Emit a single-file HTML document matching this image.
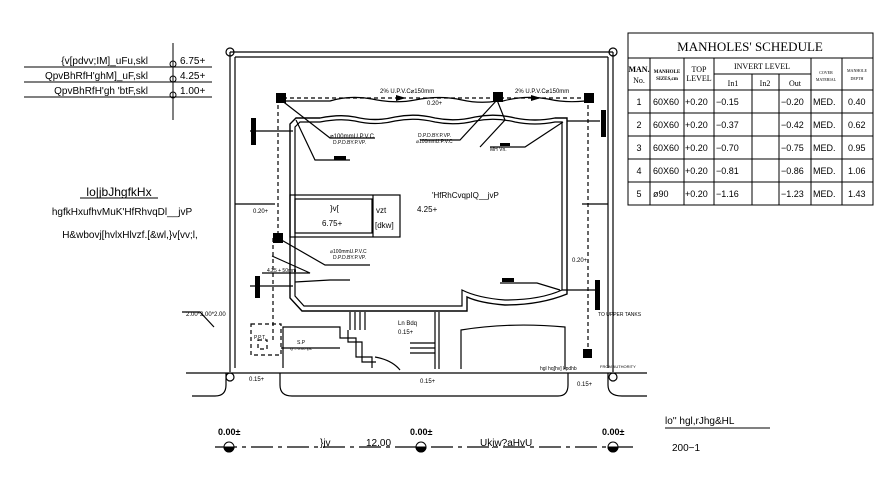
<!DOCTYPE html>
<html><head><meta charset="utf-8"><style>
html,body{margin:0;padding:0;background:#fff;}
svg{display:block;font-family:"Liberation Sans",sans-serif;}
.t{font-family:"Liberation Serif",serif;}
</style></head><body>
<svg width="891" height="493" viewBox="0 0 891 493" xmlns="http://www.w3.org/2000/svg">
<rect width="891" height="493" fill="#fff"/>
<g stroke="#000" fill="none" stroke-width="1.2">
<!-- boundary -->
<line x1="230" y1="52" x2="613" y2="52"/>
<line x1="235" y1="57" x2="608" y2="57"/>
<line x1="230" y1="52" x2="230" y2="372"/>
<line x1="235" y1="57" x2="235" y2="368"/>
<line x1="613" y1="52" x2="613" y2="372"/>
<line x1="608" y1="57" x2="608" y2="368"/>
<circle cx="230" cy="52" r="4"/><circle cx="613" cy="52" r="4"/>
<circle cx="230" cy="377" r="4"/><circle cx="613" cy="377" r="4"/>
<!-- road -->
<line x1="186" y1="373" x2="647" y2="373"/>
<path d="M192 396 H215 Q226 396 226 385 V373"/>
<path d="M280 373 V385 Q280 396 292 396 H558 Q568 396 568 385 V373"/>
<path d="M647 396 H622 Q608 396 608 385 V373"/>
<!-- wavy line under pipe -->
<path d="M283 101 H330 Q350 95 372 99 Q395 104 415 100 Q440 95 462 100 Q480 104 497 101 M503 101 Q525 95 548 99 Q565 103 585 101"/>
<!-- building -->
<path d="M290 298 V124 L296 118 H320 Q340 114 355 117 Q375 122 395 117 Q415 113 435 118 Q455 122 475 117 Q495 113 515 118 Q535 122 555 118 H567 V294 Q540 305 505 305 Q480 303 467 297 V311 H302 Z" stroke-width="1.4"/>
<path d="M295 296 V127 L300 122 H320 Q340 118 355 121 Q375 126 395 121 Q415 117 435 122 Q455 126 475 121 Q495 117 515 122 Q535 126 555 122 H562 V290 Q540 300 505 300 Q478 298 462 290 V306 H304 Z"/>
<!-- pool -->
<rect x="290" y="195" width="110" height="42"/>
<rect x="295" y="199" width="77" height="34"/>
<line x1="373" y1="195" x2="373" y2="237"/>
<!-- lower structures -->
<path d="M283 368 V327 H340 V338 H356 V357 H372 V368"/>
<path d="M348 330 V342 H362 V362 H376 V362" />
<path d="M375 357 Q392 360 400 370"/>
<line x1="435" y1="312" x2="435" y2="369"/>
<line x1="439" y1="312" x2="439" y2="369"/>
<path d="M461 369 V330 Q510 322 565 327 V369"/>
<path d="M350 312 V330 M355 312 V330 M360 312 V330 M365 312 V330"/>
<path d="M410 343 H435 M410 348 H435 M410 353 H435"/>
<line x1="235" y1="204" x2="275" y2="204"/>
<line x1="582" y1="204" x2="608" y2="204"/>
<!-- dashed pipes -->
<g stroke-dasharray="4,3">
<line x1="283" y1="98" x2="588" y2="98"/>
<line x1="278" y1="98" x2="278" y2="238"/>
<line x1="588" y1="98" x2="588" y2="355"/>
<line x1="273" y1="238" x2="273" y2="340"/>
<rect x="251" y="324" width="30" height="31"/>
<rect x="258" y="340" width="9" height="9"/>
</g>
<!-- leader lines -->
<path d="M281 100 L330 138 H375"/>
<path d="M497 100 L460 140 H420"/>
<path d="M497 100 L505 120 L480 147"/>
<path d="M563 122 L525 147 H490"/>
<path d="M296 120 L315 160 H350"/>
<path d="M278 238 L325 265 H370"/>
<path d="M560 290 L537 283 H500"/>
<path d="M295 282 L330 280 H350"/>
<path d="M250 286 H293"/>
<path d="M250 131 H293"/>
<path d="M567 121 L600 121"/>
<path d="M562 290 L597 290"/>
<path d="M182 312 H200 L214 327"/>
<path d="M281 348 H340"/>
<path d="M272 256 L310 273 H262"/>
</g>
<!-- manholes -->
<g fill="#000">
<path d="M396 95 L406 98 L396 101 Z"/><path d="M531 95 L541 98 L531 101 Z"/>
<rect x="276" y="93" width="10" height="10"/><rect x="493" y="92" width="10" height="10"/>
<rect x="584" y="93" width="10" height="10"/><rect x="273" y="233" width="10" height="10"/>
<rect x="583" y="349" width="9" height="9"/>
<rect x="251" y="118" width="5" height="27"/><rect x="601" y="110" width="5" height="27"/>
<rect x="255" y="276" width="5" height="22"/><rect x="595" y="280" width="5" height="30"/>
<rect x="334" y="156" width="12" height="4"/><rect x="500" y="143" width="10" height="3"/>
<rect x="502" y="278" width="12" height="4"/>
</g>
<g fill="#000" font-size="6">
<text x="380" y="93">2%  U.P.V.C⌀150mm</text>
<text x="515" y="93">2%  U.P.V.C⌀150mm</text>
<text x="427" y="105">0.20+</text>
<text x="330" y="138">⌀100mmU.P.V.C</text><text x="333" y="144" font-size="5">D.P.D.BY.P.VP.</text>
<text x="418" y="137" font-size="5">D.P.D.BY.P.VP.</text><text x="416" y="143" font-size="5">⌀100mmU.P.V.C</text>
<text x="490" y="151" font-size="5">MH Vn.</text>
<text x="330" y="253" font-size="5">⌀100mmU.P.V.C</text><text x="333" y="259" font-size="5">D.P.D.BY.P.VP.</text>
<text x="267" y="272" font-size="5">4.25 + 50mm</text>
<text x="253" y="213">0.20+</text><text x="572" y="262">0.20+</text>
<text x="249" y="381">0.15+</text><text x="420" y="383">0.15+</text><text x="577" y="386">0.15+</text>
<text x="398" y="325">Ln Bdq</text><text x="398" y="334">0.15+</text>
<text x="186" y="316">2.00*2.00*2.00</text>
<text x="254" y="339" font-size="5">P.P.T.</text>
<text x="297" y="344" font-size="5">S.P</text><text x="290" y="350" font-size="4">Q = 0.00 lps</text>
<text x="540" y="370" font-size="5">hgl hq[hv] kpdhb</text>
<text x="598" y="316" font-size="5">TO UPPER TANKS</text>
<text x="600" y="368" font-size="4">FROM AUTHORITY</text>
</g>
<g fill="#000" font-size="8">
<text x="432" y="198">'HfRhCvqpIQ__jvP</text>
<text x="417" y="212">4.25+</text>
<text x="330" y="211">}v[</text><text x="322" y="226">6.75+</text>
<text x="376" y="213">vzt</text><text x="375" y="228">[dkw]</text>
</g>
<!-- left legend -->
<g stroke="#000" stroke-width="1">
<line x1="24" y1="67" x2="212" y2="67"/><line x1="24" y1="82" x2="212" y2="82"/><line x1="24" y1="97" x2="212" y2="97"/>
<line x1="173" y1="43" x2="173" y2="120"/>
<circle cx="173" cy="64" r="3" fill="none"/><circle cx="173" cy="79" r="3" fill="none"/><circle cx="173" cy="95" r="3" fill="none"/>
<line x1="80" y1="198" x2="158" y2="198"/>
<line x1="665" y1="428" x2="770" y2="428"/>
</g>
<g fill="#000" font-size="10">
<text x="148" y="64" text-anchor="end">{v[pdvv;IM]_uFu,skl</text>
<text x="148" y="79" text-anchor="end">QpvBhRfH'ghM]_uF,skl</text>
<text x="148" y="94" text-anchor="end">QpvBhRfH'gh 'btF,skl</text>
<text x="180" y="64">6.75+</text><text x="180" y="79">4.25+</text><text x="180" y="94">1.00+</text>
<text x="119" y="196" text-anchor="middle" font-size="12">lo|jbJhgfkHx</text>
<text x="122" y="215" text-anchor="middle">hgfkHxufhvMuK'HfRhvqDl__jvP</text>
<text x="130" y="238" text-anchor="middle">H&amp;wbovj[hvlxHlvzf.[&amp;wl,}v[vv;l,</text>
<text x="665" y="424">lo'' hgl,rJhg&amp;HL</text>
<text x="672" y="451">200−1</text>
<text x="320" y="446">}jv</text><text x="366" y="446">12.00</text><text x="480" y="446">Ukjw?aHvU</text>
</g>
<!-- bottom level line -->
<g stroke="#000" stroke-width="1.2">
<line x1="215" y1="447" x2="635" y2="447" stroke-dasharray="22,5,4,5"/>
</g>
<g fill="#000" stroke="#000" font-size="9" font-weight="bold">
<circle cx="229" cy="447" r="5" fill="#fff"/><path d="M224 447 A5 5 0 0 0 234 447 Z"/>
<circle cx="421" cy="447" r="5" fill="#fff"/><path d="M416 447 A5 5 0 0 0 426 447 Z"/>
<circle cx="613" cy="447" r="5" fill="#fff"/><path d="M608 447 A5 5 0 0 0 618 447 Z"/>
<text x="218" y="435" stroke="none">0.00±</text><text x="410" y="435" stroke="none">0.00±</text><text x="602" y="435" stroke="none">0.00±</text>
</g>
<!-- schedule table -->
<g stroke="#000" stroke-width="1" fill="none">
<rect x="628" y="33" width="245" height="172"/>
<line x1="628" y1="58" x2="873" y2="58"/>
<line x1="628" y1="90" x2="873" y2="90"/>
<line x1="714" y1="74" x2="811" y2="74"/>
<line x1="628" y1="113" x2="873" y2="113"/><line x1="628" y1="136" x2="873" y2="136"/>
<line x1="628" y1="159" x2="873" y2="159"/><line x1="628" y1="182" x2="873" y2="182"/>
<line x1="650" y1="58" x2="650" y2="205"/><line x1="684" y1="58" x2="684" y2="205"/>
<line x1="714" y1="58" x2="714" y2="205"/><line x1="752" y1="74" x2="752" y2="205"/>
<line x1="779" y1="74" x2="779" y2="205"/><line x1="811" y1="58" x2="811" y2="205"/>
<line x1="842" y1="58" x2="842" y2="205"/>
</g>
<g class="t" fill="#000" font-size="9">
<text x="750" y="51" text-anchor="middle" font-size="13">MANHOLES'  SCHEDULE</text>
<text x="639" y="72" text-anchor="middle" font-weight="bold" font-size="8">MAN.</text><text x="639" y="83" text-anchor="middle" font-size="8">No.</text>
<text x="667" y="73" text-anchor="middle" font-size="5" font-weight="bold">MANHOLE</text><text x="667" y="80" text-anchor="middle" font-size="5" font-weight="bold">SIZES,cm</text>
<text x="699" y="72" text-anchor="middle" font-size="8">TOP</text><text x="699" y="81" text-anchor="middle" font-size="8">LEVEL</text>
<text x="762" y="69" text-anchor="middle" font-size="8">INVERT  LEVEL</text>
<text x="733" y="86" text-anchor="middle" font-size="8">In1</text><text x="765" y="86" text-anchor="middle" font-size="8">In2</text><text x="795" y="86" text-anchor="middle" font-size="8">Out</text>
<text x="826" y="74" text-anchor="middle" font-size="4">COVER</text><text x="826" y="81" text-anchor="middle" font-size="4">MATERIAL</text>
<text x="857" y="72" text-anchor="middle" font-size="4">MANHOLE</text><text x="857" y="80" text-anchor="middle" font-size="4">DEPTH</text>
</g>
<g fill="#000" font-size="9">
<g transform="translate(0,105)"><text x="639" text-anchor="middle">1</text><text x="653">60X60</text><text x="685">+0.20</text><text x="716">−0.15</text><text x="781">−0.20</text><text x="813">MED.</text><text x="848">0.40</text></g>
<g transform="translate(0,128)"><text x="639" text-anchor="middle">2</text><text x="653">60X60</text><text x="685">+0.20</text><text x="716">−0.37</text><text x="781">−0.42</text><text x="813">MED.</text><text x="848">0.62</text></g>
<g transform="translate(0,151)"><text x="639" text-anchor="middle">3</text><text x="653">60X60</text><text x="685">+0.20</text><text x="716">−0.70</text><text x="781">−0.75</text><text x="813">MED.</text><text x="848">0.95</text></g>
<g transform="translate(0,174)"><text x="639" text-anchor="middle">4</text><text x="653">60X60</text><text x="685">+0.20</text><text x="716">−0.81</text><text x="781">−0.86</text><text x="813">MED.</text><text x="848">1.06</text></g>
<g transform="translate(0,197)"><text x="639" text-anchor="middle">5</text><text x="653">ø90</text><text x="685">+0.20</text><text x="716">−1.16</text><text x="781">−1.23</text><text x="813">MED.</text><text x="848">1.43</text></g>
</g>
</svg>
</body></html>
